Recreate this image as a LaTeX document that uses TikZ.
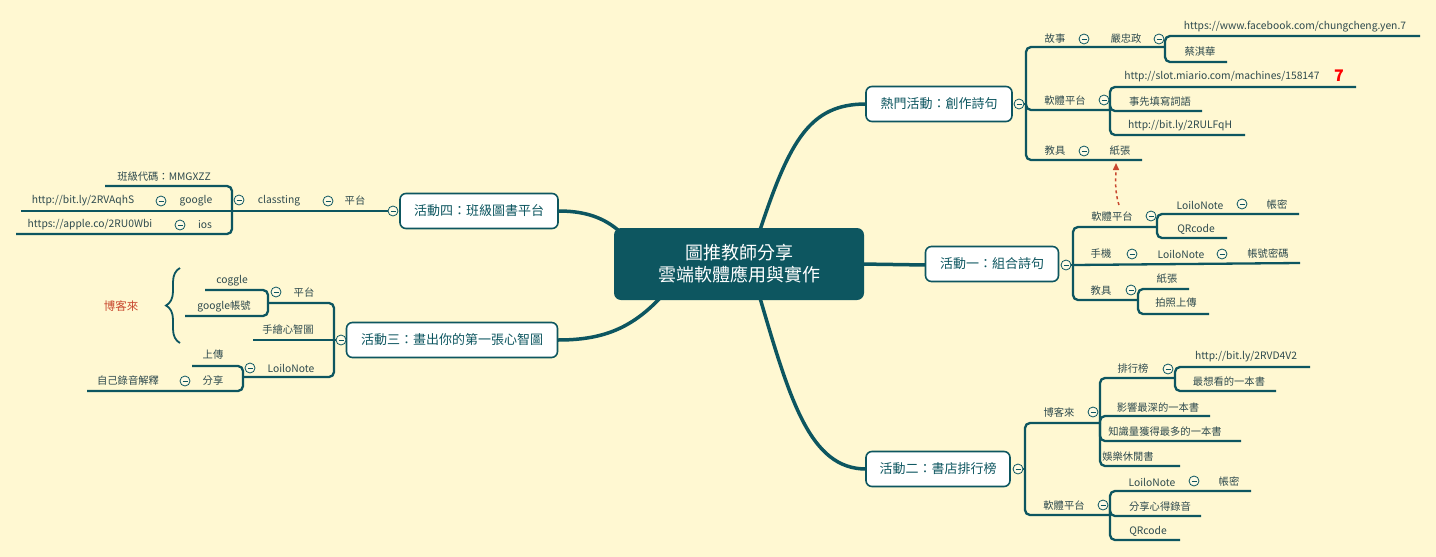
\documentclass[tikz,border=0pt]{standalone}
\usepackage{fontspec}
\setmainfont{Noto Sans CJK TC}
\usetikzlibrary{arrows.meta,decorations.pathreplacing}
\definecolor{bg}{HTML}{FFF8D2}
\definecolor{tl}{HTML}{0D5660}
\definecolor{rd}{HTML}{C8482E}
\definecolor{tx}{HTML}{2E4A4E}
\tikzset{
 br/.style={draw=tl,line width=2.3pt,rounded corners=5pt},
 mainline/.style={draw=tl,line width=3.5pt},
 lbl/.style={text=tx,font=\fontsize{10.3}{12}\selectfont,inner sep=0pt},
 mainbox/.style={draw=tl,line width=1.6pt,fill=white,rounded corners=6pt,minimum height=35pt,font=\fontsize{13}{15}\selectfont,text=tl},
 col/.style={circle,draw=tl,fill=bg!60!white,line width=0.8pt,minimum size=10pt,inner sep=0pt,
   path picture={\draw[tl,line width=0.9pt] ([xshift=-2.5pt]path picture bounding box.center)--([xshift=2.5pt]path picture bounding box.center);}},
}
\newcommand{\lbl}[4]{\node[lbl] (#1) at (#2,#3) {#4};}
\newcommand{\colp}[3]{\node[col] (#1) at (#2,#3) {};}
\begin{document}
\begin{tikzpicture}[x=1pt,y=-1pt]
\fill[bg] (0,0) rectangle (1436,557);
\useasboundingbox (0,0) rectangle (1436,557);
% main curves
\draw[mainline] (760,230) .. controls (790,140) and (810,104) .. (866,104);
\draw[mainline] (760,298) .. controls (790,400) and (810,469) .. (866,469);
\draw[mainline] (860,264) -- (926,265);
\draw[mainline] (618,230) .. controls (600,215) and (580,211) .. (558,211);
\draw[mainline] (660,298) .. controls (630,330) and (600,340) .. (558,340);
% center
\node[fill=tl,rounded corners=7pt,minimum width=250pt,minimum height=72pt,text=white,align=center,font=\fontsize{18}{22}\selectfont] (c) at (739,264) {圖推教師分享\\雲端軟體應用與實作};
% main nodes
\node[mainbox,minimum width=146pt] (m0) at (939,104) {熱門活動：創作詩句};
\node[mainbox,minimum width=133pt] (m1) at (992,264) {活動一：組合詩句};
\node[mainbox,minimum width=144pt] (m2) at (938,469) {活動二：書店排行榜};
\node[mainbox,minimum width=158pt] (m4) at (479,211) {活動四：班級圖書平台};
\node[mainbox,minimum width=211pt] (m3) at (452,340) {活動三：畫出你的第一張心智圖};
% ---- 熱門活動
\draw[br] (1019,104)--(1026,104);
\draw[br] (1026,104) |- (1165,47);
\draw[br] (1026,104) |- (1110,110);
\draw[br] (1026,104) |- (1142,160);
\draw[br] (1165,47) |- (1420,36);
\draw[br] (1165,47) |- (1227,62);
\draw[br] (1110,110) |- (1356,87);
\draw[br] (1110,110) |- (1202,111);
\draw[br] (1110,110) |- (1245,135);
\colp{k0}{1019}{104}
\lbl{a1}{1055}{39}{故事}\colp{k1}{1084}{39}\lbl{a2}{1126}{39}{嚴忠政}\colp{k2}{1159}{39}
\lbl{a3}{1295}{27}{https://www.facebook.com/chungcheng.yen.7}
\lbl{a4}{1200}{52}{蔡淇華}
\lbl{a5}{1065}{101}{軟體平台}\colp{k3}{1104}{100}
\lbl{a6}{1222}{77}{http://slot.miario.com/machines/158147}
\node[text=red,font=\bfseries\itshape\fontsize{16}{16}\selectfont,inner sep=0pt] (e7) at (1339,76) {7};
\lbl{a7}{1160}{102}{事先填寫詞語}
\lbl{a8}{1180}{126}{http://bit.ly/2RULFqH}
\lbl{a9}{1055}{151}{教具}\colp{k4}{1084}{151}\lbl{a10}{1120}{151}{紙張}
\draw[rd,line width=1.5pt,dashed,-{Triangle[length=7pt,width=6pt]}] (1119,205) .. controls (1114,190) and (1116,175) .. (1116,163);
% ---- 活動一
\draw[br] (1066,265)--(1073,265);
\draw[br] (1073,265) |- (1157,227);
\draw[br] (1073,265) -- (1300,263);
\draw[br] (1073,265) |- (1138,300);
\draw[br] (1157,227) |- (1299,214);
\draw[br] (1157,227) |- (1227,238);
\draw[br] (1138,300) |- (1189,289);
\draw[br] (1138,300) |- (1209,314);
\colp{k5}{1066}{265}
\lbl{b1}{1112}{217}{軟體平台}\colp{k6}{1151}{216}
\lbl{b2}{1200}{205}{LoiloNote}\colp{k7}{1242}{204}\lbl{b3}{1277}{205}{帳密}
\lbl{b4}{1196}{229}{QRcode}
\lbl{b5}{1101}{254}{手機}\colp{k8}{1132}{254}\lbl{b6}{1181}{254}{LoiloNote}\colp{k9}{1222}{254}\lbl{b7}{1268}{254}{帳號密碼}
\lbl{b8}{1101}{291}{教具}\colp{k10}{1131}{290}
\lbl{b9}{1167}{279}{紙張}\lbl{b10}{1176}{303}{拍照上傳}
% ---- 活動二
\draw[br] (1018,469)--(1025,469);
\draw[br] (1025,469) |- (1100,423);
\draw[br] (1025,469) |- (1110,515);
\draw[br] (1100,423) |- (1175,378);
\draw[br] (1100,423) |- (1210,416);
\draw[br] (1100,423) |- (1241,441);
\draw[br] (1100,423) |- (1180,466);
\draw[br] (1175,378) |- (1310,367);
\draw[br] (1175,378) |- (1276,391);
\draw[br] (1110,515) |- (1251,491);
\draw[br] (1110,515) |- (1201,516);
\draw[br] (1110,515) |- (1180,540);
\colp{k11}{1018}{469}
\lbl{c1}{1059}{413}{博客來}\colp{k12}{1093}{412}
\lbl{c2}{1133}{369}{排行榜}\colp{k13}{1168}{369}
\lbl{c3}{1246}{357}{http://bit.ly/2RVD4V2}
\lbl{c4}{1229}{382}{最想看的一本書}
\lbl{c5}{1158}{408}{影響最深的一本書}
\lbl{c6}{1165}{432}{知識量獲得最多的一本書}
\lbl{c7}{1128}{457}{娛樂休閒書}
\lbl{c8}{1064}{506}{軟體平台}\colp{k14}{1103}{505}
\lbl{c9}{1152}{482}{LoiloNote}\colp{k15}{1194}{481}\lbl{c10}{1229}{482}{帳密}
\lbl{c11}{1160}{507}{分享心得錄音}
\lbl{c12}{1148}{531}{QRcode}
% ---- 活動四
\draw[br] (393,211)--(232,211);
\draw[br] (232,211) |- (105,186);
\draw[br] (232,211) -- (21,211);
\draw[br] (232,211) |- (16,234);
\colp{k16}{393}{211}
\lbl{d1}{355}{201}{平台}\colp{k17}{328}{201}\lbl{d2}{279}{201}{classting}\colp{k18}{239}{200}
\lbl{d3}{164}{177}{班級代碼：MMGXZZ}
\lbl{d4}{196}{201}{google}\colp{k19}{161}{201}\lbl{d5}{83}{201}{http://bit.ly/2RVAqhS}
\lbl{d6}{205}{225}{ios}\colp{k20}{180}{225}\lbl{d7}{90}{225}{https://apple.co/2RU0Wbi}
% ---- 活動三
\draw[br] (341,340)--(334,340);
\draw[br] (334,340) |- (268,303);
\draw[br] (334,340) -- (253,340);
\draw[br] (334,340) |- (243,377);
\draw[br] (268,303) |- (205,290);
\draw[br] (268,303) |- (185,316);
\draw[br] (243,377) |- (192,366);
\draw[br] (243,377) |- (87,391);
\colp{k21}{341}{340}
\lbl{e1}{304}{293}{平台}\colp{k22}{276}{292}
\lbl{e2}{232}{281}{coggle}\lbl{e3}{224}{306}{google帳號}
\lbl{e4}{288}{330}{手繪心智圖}
\lbl{e5}{291}{368}{LoiloNote}\colp{k23}{250}{368}
\lbl{e6}{213}{355}{上傳}
\lbl{e7}{213}{381}{分享}\colp{k24}{185}{381}\lbl{e8}{128}{381}{自己錄音解釋}
\draw[tl,line width=1.8pt,decorate,decoration={brace,amplitude=14pt}] (180,343) -- (180,268);
\node[text=rd,font=\fontsize{11.5}{13}\selectfont,inner sep=0pt] (bk) at (121,306) {博客來};
\end{tikzpicture}
\end{document}
